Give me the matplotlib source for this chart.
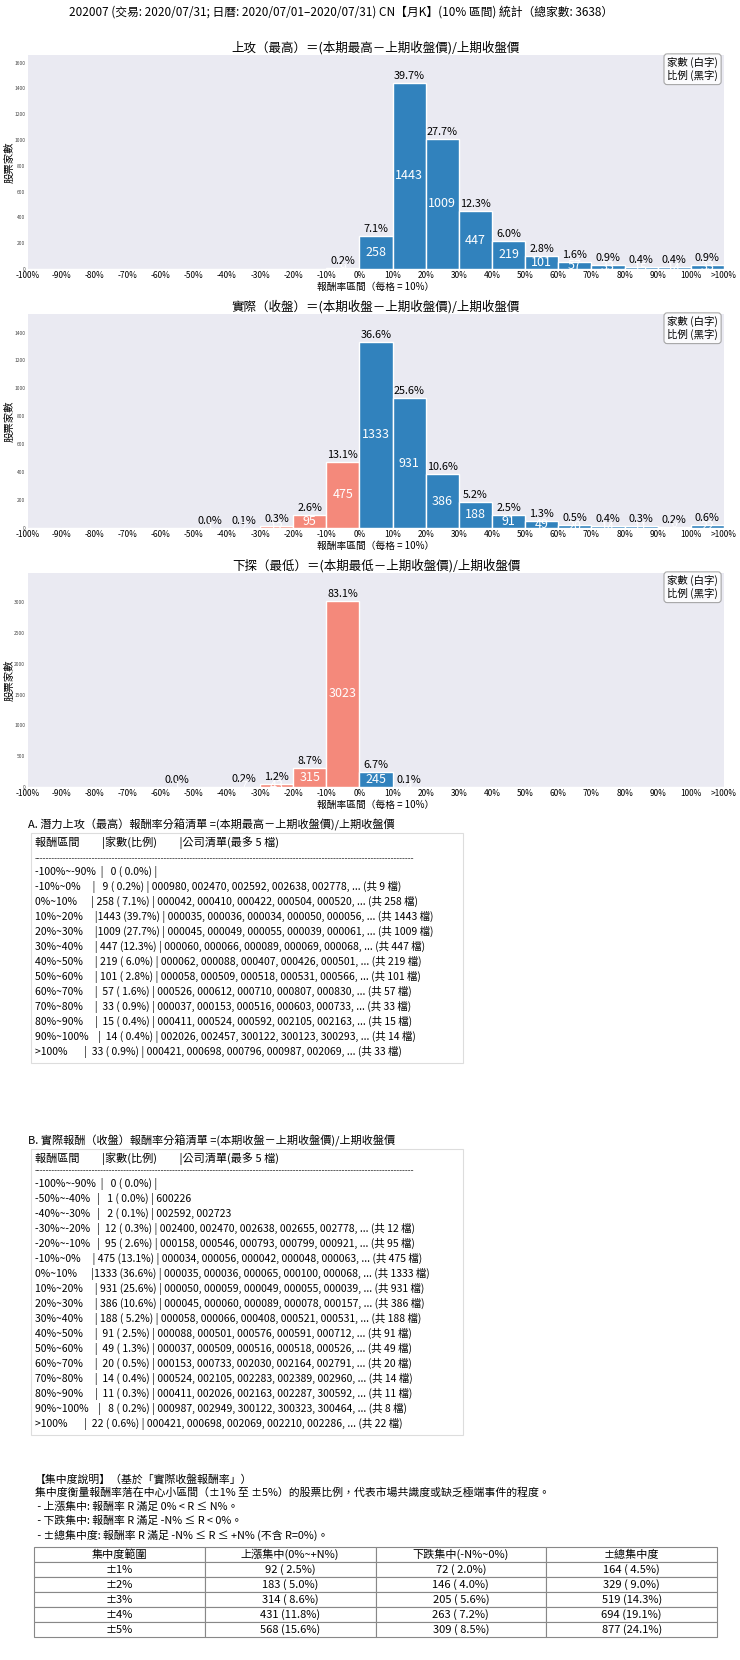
import numpy as np
import matplotlib

matplotlib.use('agg')
import matplotlib.pyplot as plt
from matplotlib.patches import Rectangle

plt.rcParams['font.family'] = ['Noto Sans CJK TC', 'DejaVu Sans']

W, H = 740, 1660
TOTAL = 3638

# bins: -100~-90 ... 90~100, >100
edges = list(range(-100, 101, 10))
tick_labels = [f"{e}%" for e in edges] + [">100%"]
bin_labels = [f"{edges[i]}%~{edges[i + 1]}%" for i in range(20)] + [">100%"]

high_counts = [0, 0, 0, 0, 0, 0, 0, 0, 0, 9, 258, 1443, 1009, 447, 219, 101, 57, 33, 15, 14, 33]
close_counts = [0, 0, 0, 0, 0, 1, 2, 12, 95, 475, 1333, 931, 386, 188, 91, 49, 20, 14, 11, 8, 22]
low_counts = [0, 0, 0, 0, 1, 0, 7, 43, 315, 3023, 245, 4, 0, 0, 0, 0, 0, 0, 0, 0, 0]

titles = [
    "上攻（最高）＝(本期最高－上期收盤價)/上期收盤價",
    "實際（收盤）＝(本期收盤－上期收盤價)/上期收盤價",
    "下探（最低）＝(本期最低－上期收盤價)/上期收盤價",
]
suptitle = "202007 (交易: 2020/07/31; 日曆: 2020/07/01–2020/07/31) CN【月K】(10% 區間) 統計（總家數: 3638）"

high_codes = {
    "-10%~0%": ["000980", "002470", "002592", "002638", "002778"],
    "0%~10%": ["000042", "000410", "000422", "000504", "000520"],
    "10%~20%": ["000035", "000036", "000034", "000050", "000056"],
    "20%~30%": ["000045", "000049", "000055", "000039", "000061"],
    "30%~40%": ["000060", "000066", "000089", "000069", "000068"],
    "40%~50%": ["000062", "000088", "000407", "000426", "000501"],
    "50%~60%": ["000058", "000509", "000518", "000531", "000566"],
    "60%~70%": ["000526", "000612", "000710", "000807", "000830"],
    "70%~80%": ["000037", "000153", "000516", "000603", "000733"],
    "80%~90%": ["000411", "000524", "000592", "002105", "002163"],
    "90%~100%": ["002026", "002457", "300122", "300123", "300293"],
    ">100%": ["000421", "000698", "000796", "000987", "002069"],
}
close_codes = {
    "-50%~-40%": ["600226"],
    "-40%~-30%": ["002592", "002723"],
    "-30%~-20%": ["002400", "002470", "002638", "002655", "002778"],
    "-20%~-10%": ["000158", "000546", "000793", "000799", "000921"],
    "-10%~0%": ["000034", "000056", "000042", "000048", "000063"],
    "0%~10%": ["000035", "000036", "000065", "000100", "000068"],
    "10%~20%": ["000050", "000059", "000049", "000055", "000039"],
    "20%~30%": ["000045", "000060", "000089", "000078", "000157"],
    "30%~40%": ["000058", "000066", "000408", "000521", "000531"],
    "40%~50%": ["000088", "000501", "000576", "000591", "000712"],
    "50%~60%": ["000037", "000509", "000516", "000518", "000526"],
    "60%~70%": ["000153", "000733", "002030", "002164", "002791"],
    "70%~80%": ["000524", "002105", "002283", "002389", "002960"],
    "80%~90%": ["000411", "002026", "002163", "002287", "300592"],
    "90%~100%": ["000987", "002949", "300122", "300323", "300464"],
    ">100%": ["000421", "000698", "002069", "002210", "002286"],
}

conc_ranges = ["±1%", "±2%", "±3%", "±4%", "±5%"]
conc_up = [92, 183, 314, 431, 568]
conc_down = [72, 146, 205, 263, 309]
conc_total = [164, 329, 519, 694, 877]
conc_header = ["集中度範圍", "上漲集中(0%~+N%)", "下跌集中(-N%~0%)", "±總集中度"]

notes = [
    "【集中度說明】（基於「實際收盤報酬率」）",
    "集中度衡量報酬率落在中心小區間（±1% 至 ±5%）的股票比例，代表市場共識度或缺乏極端事件的程度。",
    " - 上漲集中: 報酬率 R 滿足 0% < R ≤ N%。",
    " - 下跌集中: 報酬率 R 滿足 -N% ≤ R < 0%。",
    " - ±總集中度: 報酬率 R 滿足 -N% ≤ R ≤ +N% (不含 R=0%)。",
]

BLUE = '#3182bd'
SALMON = '#f4897b'


def fx(px):
    return px / W


def fy(py):
    return 1 - py / H


fig = plt.figure(figsize=(W / 100, H / 100), dpi=100)
fig.text(fx(341), fy(12), suptitle, ha='center', va='center', fontsize=8.5)

for counts, title, top in zip([high_counts, close_counts, low_counts], titles, [55, 314, 573]):
    ax = fig.add_axes([fx(28), fy(top + 214), 696 / W, 214 / H])
    ax.set_facecolor('#eaeaf2')
    for s in ax.spines.values():
        s.set_visible(False)
    x = np.arange(len(counts)) + 0.5
    colors = [SALMON if i < 10 else BLUE for i in range(len(counts))]
    ax.bar(x, counts, width=1, color=colors, edgecolor='white', linewidth=1)
    ymax = max(counts) * 1.15
    ax.set_xlim(0, len(counts))
    ax.set_ylim(0, ymax)
    for xi, c in zip(x, counts):
        if c == 0:
            continue
        ax.annotate(f"{c / TOTAL * 100:.1f}%", (xi, c), xytext=(0, 1.5), textcoords='offset points',
                    ha='center', va='bottom', fontsize=7.8)
        ax.text(xi, c / 2, str(c), ha='center', va='center', color='white', fontsize=9, clip_on=True)
    ax.set_xticks(np.arange(len(counts) + 1))
    ax.set_xticklabels(tick_labels, fontsize=6)
    ax.tick_params(axis='x', length=0, pad=1.5)
    ax.tick_params(axis='y', length=0, pad=2, labelsize=3.5, labelcolor='#444444')
    ax.set_title(title, fontsize=9, pad=1.5)
    ax.set_xlabel("報酬率區間（每格 = 10%）", fontsize=7, labelpad=1)
    ax.set_ylabel("股票家數", fontsize=7.5)
    ax.yaxis.set_label_coords(-(28 - 15) / 696, 0.5)
    ax.text(1 - 6 / 696, 1 - 2 / 214, "家數 (白字)\n比例 (黑字)", transform=ax.transAxes,
            ha='right', va='top', fontsize=7.5, linespacing=1.25,
            bbox=dict(boxstyle='round,pad=0.3', fc='white', ec='#999999', alpha=0.85, lw=0.8))


def list_lines(counts, codes_map):
    lines = []
    for i, (lab, c) in enumerate(zip(bin_labels, counts)):
        if c == 0 and i != 0:
            continue
        s = f"{lab:<12}|{c:>4} ({c / TOTAL * 100:4.1f}%) | "
        codes = codes_map.get(lab, [])
        if codes:
            s += ", ".join(codes)
            if c > len(codes):
                s += f", ... (共 {c} 檔)"
        lines.append(s)
    return lines


header = f"{'報酬區間':<13}|{'家數(比例)':<15}|公司清單(最多 5 檔)"
dash = "-" * 132

sections = [
    ("A. 潛力上攻（最高）報酬率分箱清單 =(本期最高－上期收盤價)/上期收盤價", high_counts, high_codes, 825, 0),
    ("B. 實際報酬（收盤）報酬率分箱清單 =(本期收盤－上期收盤價)/上期收盤價", close_counts, close_codes, 1137, 4),
]
for head, counts, codes_map, ty, shift in sections:
    rows = list_lines(counts, codes_map)
    fig.text(fx(28), fy(ty + shift), head, ha='left', va='center', fontsize=8)
    box_top = ty + 8 + shift
    box_bot = ty + 47 + 15 * len(rows) - 15 + 11
    fig.patches.append(Rectangle((fx(31), fy(box_bot)), (463 - 31) / W, (box_bot - box_top) / H,
                                 transform=fig.transFigure, fc='white', ec='#dddddd', lw=0.8))
    fig.text(fx(35), fy(ty + 18 + shift), header, ha='left', va='center', fontsize=8)
    fig.text(fx(35), fy(ty + 34), dash, ha='left', va='center', fontsize=6, color='#333333')
    for k, r in enumerate(rows):
        fig.text(fx(35), fy(ty + 47 + 15 * k), r, ha='left', va='center', fontsize=7.5)

for k, line in enumerate(notes):
    fig.text(fx(35), fy(1479 + 14 * k), line, ha='left', va='center', fontsize=7.8)

cells = []
for r, u, d, t in zip(conc_ranges, conc_up, conc_down, conc_total):
    cells.append([r, f"{u} ({u / TOTAL * 100:4.1f}%)", f"{d} ({d / TOTAL * 100:4.1f}%)",
                  f"{t} ({t / TOTAL * 100:4.1f}%)"])
tax = fig.add_axes([fx(34), fy(1637), (717 - 34) / W, (1637 - 1547) / H])
tax.axis('off')
tbl = tax.table(cellText=cells, colLabels=conc_header, cellLoc='center', bbox=[0, 0, 1, 1])
tbl.auto_set_font_size(False)
tbl.set_fontsize(8)
for cell in tbl.get_celld().values():
    cell.set_edgecolor('#888888')
    cell.set_linewidth(0.8)

fig.savefig('out.png', dpi=100)
